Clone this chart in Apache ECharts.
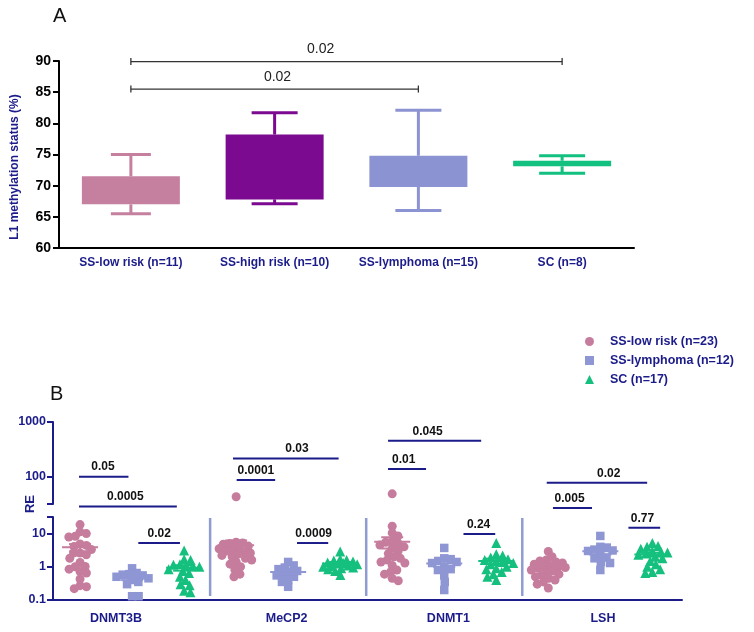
<!DOCTYPE html>
<html><head><meta charset="utf-8">
<script src="https://cdn.jsdelivr.net/npm/echarts@6/dist/echarts.min.js"></script>
<style>html,body{margin:0;padding:0;background:#fff}#c{width:754px;height:632px}</style>
</head><body><div id="c"></div>
<script>
// ---------- Panel A data ----------
const groupsA = ['SS-low risk (n=11)', 'SS-high risk (n=10)', 'SS-lymphoma (n=15)', 'SC (n=8)'];
const minA = [65.5, 67.1, 66.0, 72.0];
const q1A  = [67.0, 67.8, 69.8, 73.1];
const q3A  = [71.5, 78.2, 74.8, 74.0];
const maxA = [75.0, 81.7, 82.1, 74.8];
const pLabelsA = ['0.02', '0.02'];
const pFromA = [0, 0];
const pToA = [3, 2];
const pLevelA = [89.9, 85.5];
const pTextXA = [1.32, 1.02];

// ---------- Panel B data ----------
const genes = ['DNMT3B', 'MeCP2', 'DNMT1', 'LSH'];
const seriesNamesB = ['SS-low risk (n=23)', 'SS-lymphoma (n=12)', 'SC (n=17)'];
const lowDNMT3B = [18.7, 11.3, 10, 8.3, 7.9, 4.9, 4.4, 4.1, 3.3, 2.6, 2.6, 2.3, 1.8, 1.35, 1.02, 1.0, 0.85, 0.72, 0.65, 0.43, 0.27, 0.25, 0.22];
const lymDNMT3B = [0.9, 0.65, 0.6, 0.58, 0.55, 0.5, 0.45, 0.4, 0.35, 0.3, 0.13, 0.13];
const scDNMT3B  = [3.1, 1.7, 1.6, 1.2, 1.15, 1.1, 1.05, 1.0, 0.85, 0.75, 0.65, 0.5, 0.4, 0.3, 0.28, 0.19, 0.17];
const lowMeCP2 = [43, 5.5, 5.2, 5.0, 4.8, 4.2, 3.8, 3.5, 3.2, 3.0, 2.8, 2.6, 2.4, 2.2, 2.0, 1.8, 1.6, 1.4, 1.2, 1.0, 0.8, 0.6, 0.5];
const lymMeCP2 = [1.4, 1.1, 0.95, 0.85, 0.75, 0.7, 0.6, 0.55, 0.5, 0.4, 0.35, 0.25];
const scMeCP2  = [2.9, 1.7, 1.6, 1.55, 1.45, 1.35, 1.3, 1.25, 1.2, 1.1, 1.05, 1.0, 0.95, 0.9, 0.85, 0.75, 0.57];
const lowDNMT1 = [48.5, 16.6, 10.5, 8.5, 5.8, 5.5, 5.0, 4.5, 4.0, 3.6, 3.0, 2.5, 2.0, 1.8, 1.6, 1.4, 1.3, 1.1, 0.8, 0.7, 0.6, 0.45, 0.38];
const lymDNMT1 = [3.7, 1.8, 1.7, 1.5, 1.4, 1.3, 0.9, 0.85, 0.8, 0.55, 0.35, 0.2];
const scDNMT1  = [5.2, 2.4, 2.2, 1.9, 1.7, 1.6, 1.5, 1.4, 1.3, 1.2, 1.0, 0.9, 0.85, 0.7, 0.6, 0.5, 0.4];
const lowLSH = [2.9, 2.0, 1.6, 1.5, 1.4, 1.3, 1.2, 1.1, 1.0, 1.0, 0.95, 0.9, 0.8, 0.75, 0.7, 0.6, 0.55, 0.5, 0.45, 0.4, 0.35, 0.3, 0.23];
const lymLSH = [8.5, 4.0, 3.8, 3.3, 3.1, 3.0, 2.2, 1.9, 1.8, 1.4, 1.3, 0.8];
const scLSH  = [5.2, 4.2, 4.0, 3.5, 3.0, 2.8, 2.7, 2.5, 2.3, 2.0, 1.8, 1.5, 1.2, 1.0, 0.85, 0.7, 0.65];
const pLabelsB = ['0.05', '0.0005', '0.02', '0.03', '0.0001', '0.0009', '0.045', '0.01', '0.24', '0.02', '0.005', '0.77'];
const pFromB  = [-0.02, -0.02, 1.12, 2.94, 3.01, 4.17, 5.92, 5.92, 7.37, 8.97, 9.09, 10.54];
const pToB    = [0.93, 1.86, 1.92, 4.97, 3.75, 4.77, 7.71, 6.65, 7.98, 10.9, 9.84, 11.15];
const pLevelB = [100, 28.5, 5.2, 216, 87, 5.2, 452, 138, 9.8, 77, 26.6, 14.9];
const pTextXB = [0.44, 0.87, 1.52, 4.17, 3.38, 4.49, 6.68, 6.22, 7.66, 10.16, 9.41, 10.81];

// ---------- layout / style ----------
const FONT = "'Liberation Sans', Arial, sans-serif";
const NAVY = '#1b1b8a';
const colorsA = ['#c5809f', '#7b0a90', '#8c93d2', '#12c07f'];
const colorsB = ['#c67c9c', '#8f96d4', '#15c07e'];
const symbolsB = ['circle', 'rect', 'triangle'];
const symSizeB = [9, 8.5, 10];
const BREAK = Math.pow(10, 1.5);
const geneLabelShift = [-0.31, -0.03, 0.08, 0.05];
const separatorsB = [2.5, 5.5, 8.5];
const dataB = [
  [lowDNMT3B, lowMeCP2, lowDNMT1, lowLSH],
  [lymDNMT3B, lymMeCP2, lymDNMT1, lymLSH],
  [scDNMT3B, scMeCP2, scDNMT1, scLSH]
];

// deterministic beeswarm (pixel units), limited half-width
function swarm(vals, pxPerDecade, D, maxW) {
  const idx = vals.map((v, i) => i).sort((a, b) => vals[b] - vals[a]);
  const placed = [];
  const off = new Array(vals.length).fill(0);
  for (const i of idx) {
    const y = Math.log10(vals[i]) * pxPerDecade;
    const cands = [0];
    for (const p of placed) {
      const dy = Math.abs(p.y - y);
      if (dy < D) { const dx = Math.sqrt(D * D - dy * dy); cands.push(p.x + dx, p.x - dx); }
    }
    cands.sort((a, b) => Math.abs(a) - Math.abs(b));
    let chosen = null;
    for (const c of cands) {
      if (Math.abs(c) > maxW) continue;
      let ok = true;
      for (const p of placed) {
        const dy = p.y - y, dx = p.x - c;
        if (dx * dx + dy * dy < D * D - 0.01) { ok = false; break; }
      }
      if (ok) { chosen = c; break; }
    }
    if (chosen === null) {
      // least crowded position within the allowed width
      let best = 0, bestD = -1;
      for (let c = -maxW; c <= maxW; c += 1) {
        let dmin = Infinity;
        for (const p of placed) { const dy = p.y - y, dx = p.x - c; dmin = Math.min(dmin, dx * dx + dy * dy); }
        if (dmin > bestD) { bestD = dmin; best = c; }
      }
      chosen = best;
    }
    placed.push({ x: chosen, y });
    off[i] = chosen;
  }
  return off;
}

const COLPX = 52;
const series = [];

// Panel A boxes
series.push({
  type: 'custom', xAxisIndex: 0, yAxisIndex: 0, clip: false, z: 3,
  data: groupsA.map((g, i) => [i, minA[i], q1A[i], q3A[i], maxA[i]]),
  renderItem(params, api) {
    const i = api.value(0);
    const pMin = api.coord([i, api.value(1)]);
    const pQ1 = api.coord([i, api.value(2)]);
    const pQ3 = api.coord([i, api.value(3)]);
    const pMax = api.coord([i, api.value(4)]);
    const x = pMin[0], col = colorsA[params.dataIndex];
    const bw = 98, cw = params.dataIndex === 0 ? 40 : 46;
    const ls = { stroke: col, lineWidth: 3 };
    return { type: 'group', children: [
      { type: 'line', shape: { x1: x, y1: pQ3[1], x2: x, y2: pMax[1] }, style: ls },
      { type: 'line', shape: { x1: x, y1: pQ1[1], x2: x, y2: pMin[1] }, style: ls },
      { type: 'line', shape: { x1: x - cw / 2, y1: pMax[1], x2: x + cw / 2, y2: pMax[1] }, style: ls },
      { type: 'line', shape: { x1: x - cw / 2, y1: pMin[1], x2: x + cw / 2, y2: pMin[1] }, style: ls },
      { type: 'rect', shape: { x: x - bw / 2, y: pQ3[1], width: bw, height: pQ1[1] - pQ3[1] }, style: { fill: col } }
    ]};
  }
});
// Panel A brackets
series.push({
  type: 'custom', xAxisIndex: 1, yAxisIndex: 0, clip: false, z: 4,
  data: pLabelsA.map((t, i) => [pFromA[i], pToA[i], pLevelA[i], pTextXA[i]]),
  renderItem(params, api) {
    const a = api.coord([api.value(0), api.value(2)]);
    const b = api.coord([api.value(1), api.value(2)]);
    const t = api.coord([api.value(3), api.value(2)]);
    const ls = { stroke: '#333', lineWidth: 1.3 };
    return { type: 'group', children: [
      { type: 'line', shape: { x1: a[0], y1: a[1], x2: b[0], y2: b[1] }, style: ls },
      { type: 'line', shape: { x1: a[0], y1: a[1] - 3.5, x2: a[0], y2: a[1] + 3.5 }, style: ls },
      { type: 'line', shape: { x1: b[0], y1: b[1] - 3.5, x2: b[0], y2: b[1] + 3.5 }, style: ls },
      { type: 'text', style: { text: pLabelsA[params.dataIndex], x: t[0], y: t[1] - 12, align: 'center', verticalAlign: 'middle', fontFamily: FONT, fontSize: 14, fill: '#222' } }
    ]};
  }
});

// Panel B scatter
for (let g = 0; g < 3; g++) {
  const bottom = [], top = [], stats = [];
  for (let k = 0; k < 4; k++) {
    const vals = dataB[g][k];
    const off = swarm(vals, 33, 6.5, 17);
    const xc = k * 3 + g;
    vals.forEach((v, i) => {
      const pt = [xc + off[i] / COLPX, v];
      (v >= BREAK ? top : bottom).push(pt);
    });
    const n = vals.length;
    const mean = vals.reduce((s, v) => s + v, 0) / n;
    const sd = Math.sqrt(vals.reduce((s, v) => s + (v - mean) * (v - mean), 0) / (n - 1));
    stats.push([xc, mean, sd / Math.sqrt(n), g]);
  }
  series.push({ type: 'scatter', name: seriesNamesB[g], xAxisIndex: 3, yAxisIndex: 2, data: bottom,
    symbol: symbolsB[g], symbolSize: symSizeB[g], itemStyle: { color: colorsB[g], opacity: 1 }, z: 3, silent: true });
  series.push({ type: 'scatter', name: seriesNamesB[g], xAxisIndex: 2, yAxisIndex: 1, data: top,
    symbol: symbolsB[g], symbolSize: symSizeB[g], itemStyle: { color: colorsB[g], opacity: 1 }, z: 3, silent: true });
  series.push({
    type: 'custom', xAxisIndex: 3, yAxisIndex: 2, clip: false, z: 5, data: stats,
    renderItem(params, api) {
      const x = api.value(0), m = api.value(1), s = api.value(2), gi = api.value(3);
      const c = api.coord([x, m]);
      const tp = api.coord([x, m + s]);
      const bt = api.coord([x, Math.max(m - s, 0.01)]);
      const st = { stroke: colorsB[gi], lineWidth: 2 };
      return { type: 'group', children: [
        { type: 'line', shape: { x1: c[0] - 18, y1: c[1], x2: c[0] + 18, y2: c[1] }, style: st },
        { type: 'line', shape: { x1: c[0], y1: tp[1], x2: c[0], y2: bt[1] }, style: st },
        { type: 'line', shape: { x1: c[0] - 11, y1: tp[1], x2: c[0] + 11, y2: tp[1] }, style: st },
        { type: 'line', shape: { x1: c[0] - 11, y1: bt[1], x2: c[0] + 11, y2: bt[1] }, style: st }
      ]};
    }
  });
}

// Separators
series.push({
  type: 'custom', xAxisIndex: 3, yAxisIndex: 2, clip: false, z: 2,
  data: separatorsB.map(v => [v]),
  renderItem(params, api) {
    const a = api.coord([api.value(0), BREAK]);
    const b = api.coord([api.value(0), 0.1]);
    return { type: 'line', shape: { x1: a[0], y1: a[1] + 1, x2: b[0], y2: b[1] - 4 }, style: { stroke: '#8f9bd3', lineWidth: 2.5 } };
  }
});

// Panel B brackets
function bracketSeries(useTop) {
  const items = [];
  pLabelsB.forEach((t, i) => {
    if ((pLevelB[i] >= 20) === useTop) items.push([pFromB[i], pToB[i], pLevelB[i], pTextXB[i], i]);
  });
  return {
    type: 'custom', xAxisIndex: useTop ? 2 : 3, yAxisIndex: useTop ? 1 : 2, clip: false, z: 4, data: items,
    renderItem(params, api) {
      const a = api.coord([api.value(0), api.value(2)]);
      const b = api.coord([api.value(1), api.value(2)]);
      const t = api.coord([api.value(3), api.value(2)]);
      return { type: 'group', children: [
        { type: 'line', shape: { x1: a[0], y1: a[1], x2: b[0], y2: b[1] }, style: { stroke: NAVY, lineWidth: 2 } },
        { type: 'text', style: { text: pLabelsB[api.value(4)], x: t[0], y: t[1] - 9.5, align: 'center', verticalAlign: 'middle', fontFamily: FONT, fontSize: 12, fontWeight: 'bold', fill: '#111' } }
      ]};
    }
  };
}
series.push(bracketSeries(true));
series.push(bracketSeries(false));

const logLabel = v => {
  const l = Math.log10(v);
  return Math.abs(l - Math.round(l)) < 1e-6 ? String(+(+v).toPrecision(6)) : '';
};
const axisB = {
  axisLine: { show: true, onZero: false, lineStyle: { color: NAVY, width: 2 } },
  axisTick: { show: true, length: 6, lineStyle: { color: NAVY, width: 2 } },
  splitLine: { show: false },
  axisLabel: { color: NAVY, fontWeight: 'bold', fontSize: 12.5, fontFamily: FONT, margin: 7, formatter: logLabel }
};

const option = {
  animation: false,
  backgroundColor: '#fff',
  grid: [
    { left: 59, top: 61, width: 575, height: 187 },
    { left: 53, top: 422, width: 629, height: 82 },
    { left: 53, top: 517, width: 629, height: 83 }
  ],
  xAxis: [
    { type: 'category', gridIndex: 0, data: groupsA, boundaryGap: true,
      axisLine: { onZero: false, lineStyle: { color: '#000', width: 2 } },
      axisTick: { alignWithLabel: true, length: 5, lineStyle: { color: '#000', width: 2 } },
      axisLabel: { interval: 0, color: NAVY, fontWeight: 'bold', fontSize: 12, fontFamily: FONT, margin: 9 },
      splitLine: { show: false } },
    { type: 'value', gridIndex: 0, min: -0.5, max: 3.5, show: false },
    { type: 'value', gridIndex: 1, min: -0.52, max: 11.57, show: false },
    { type: 'value', gridIndex: 2, min: -0.52, max: 11.57,
      axisLine: { show: true, onZero: false, lineStyle: { color: NAVY, width: 2 } },
      axisTick: { show: false }, splitLine: { show: false },
      axisLabel: { color: NAVY, fontWeight: 'bold', fontSize: 12.5, fontFamily: FONT, margin: 12,
        customValues: genes.map((g, k) => k * 3 + 1 + geneLabelShift[k]),
        formatter: v => { const k = Math.round((v - 1) / 3); return genes[k] || ''; } } }
  ],
  yAxis: [
    { type: 'value', gridIndex: 0, min: 60, max: 90, interval: 5,
      axisLine: { show: true, onZero: false, lineStyle: { color: '#000', width: 2 } },
      axisTick: { show: true, length: 6, lineStyle: { color: '#000', width: 2 } },
      axisLabel: { color: '#000', fontWeight: 'bold', fontSize: 14, fontFamily: FONT, margin: 8 },
      splitLine: { show: false } },
    Object.assign({ type: 'log', logBase: 10, gridIndex: 1, min: BREAK, max: 1000 }, axisB),
    Object.assign({ type: 'log', logBase: 10, gridIndex: 2, min: 0.1, max: BREAK }, axisB)
  ],
  legend: {
    orient: 'vertical', left: 580, top: 330, itemWidth: 9, itemHeight: 9, itemGap: 6,
    selectedMode: false,
    data: seriesNamesB.map((n, i) => ({ name: n, icon: symbolsB[i] })),
    textStyle: { color: NAVY, fontWeight: 'bold', fontSize: 12.5, fontFamily: FONT, padding: [0, 0, 0, 11] }
  },
  graphic: [
    { type: 'text', left: 53, top: 6, style: { text: 'A', fontSize: 20, fontFamily: FONT, fill: '#111' } },
    { type: 'text', left: 50, top: 384, style: { text: 'B', fontSize: 20, fontFamily: FONT, fill: '#111' } },
    { type: 'text', x: 15, y: 167, rotation: Math.PI / 2,
      style: { text: 'L1 methylation status (%)', align: 'center', verticalAlign: 'middle', fontSize: 12, fontWeight: 'bold', fontFamily: FONT, fill: NAVY } },
    { type: 'text', x: 30, y: 504, rotation: Math.PI / 2,
      style: { text: 'RE', align: 'center', verticalAlign: 'middle', fontSize: 13, fontWeight: 'bold', fontFamily: FONT, fill: NAVY } }
  ],
  series
};
const chart = echarts.init(document.getElementById('c'), null, { renderer: 'canvas' });
chart.setOption(option);
</script></body></html>
